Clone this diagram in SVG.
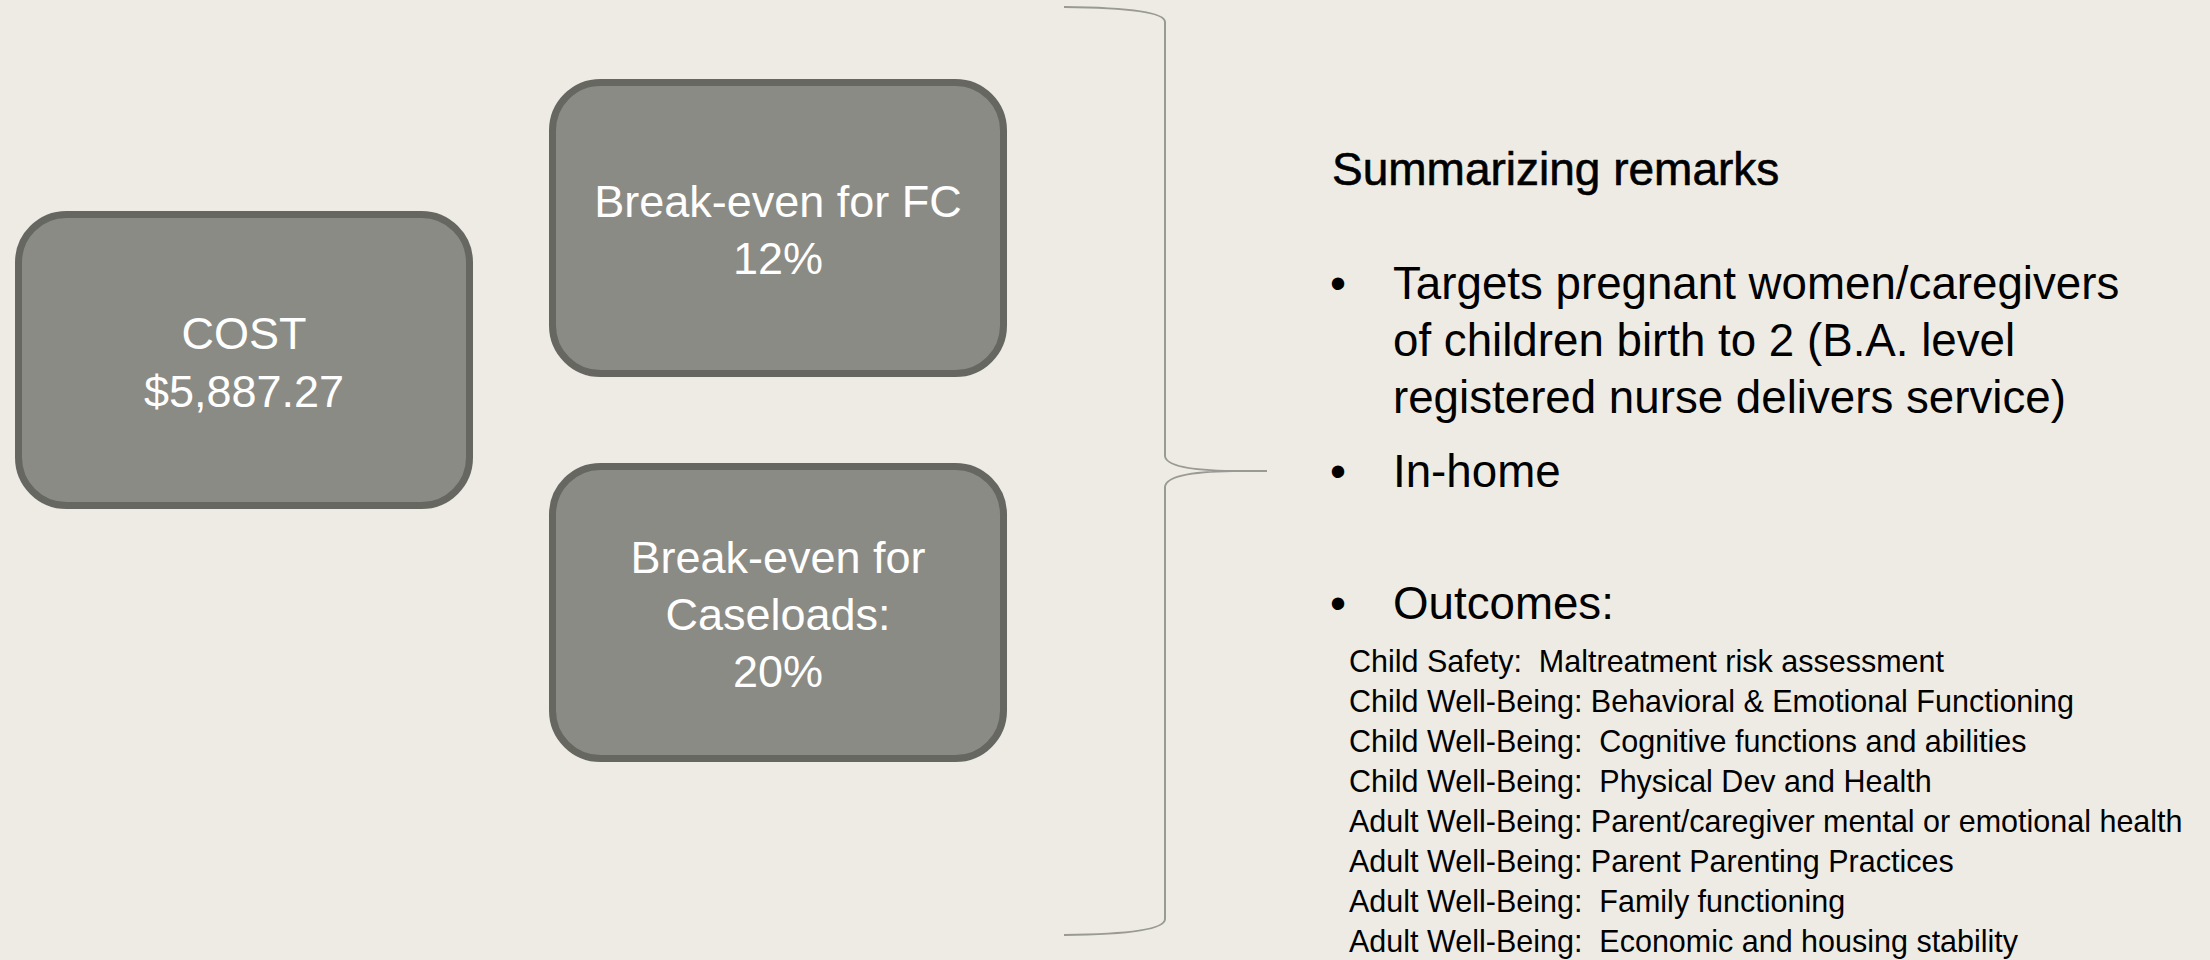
<svg xmlns="http://www.w3.org/2000/svg" width="2210" height="960" viewBox="0 0 2210 960">
<style>
.box{fill:#8b8b85;stroke:#676761;stroke-width:7}
.bt{font-family:"Liberation Sans",Arial,sans-serif;font-size:45px;fill:#ffffff;text-anchor:middle}
.h{font-family:"Liberation Sans",Arial,sans-serif;font-size:46px;fill:#000000;stroke:#000000;stroke-width:0.6}
.b{font-family:"Liberation Sans",Arial,sans-serif;font-size:45.7px;fill:#000000}
.s{font-family:"Liberation Sans",Arial,sans-serif;font-size:30.5px;fill:#000000}
.brace{fill:none;stroke:#9a9a94;stroke-width:2}
</style>
<rect x="0" y="0" width="2210" height="960" fill="#eeebe4"/>
<g id="cost">
<rect class="box" x="18.5" y="214.5" width="451" height="291" rx="48"/>
<text class="bt" x="244" y="349">COST</text>
<text class="bt" x="244" y="407">$5,887.27</text>
</g>
<g id="fc">
<rect class="box" x="552.5" y="82.5" width="451" height="291" rx="48"/>
<text class="bt" x="778" y="217">Break-even for FC</text>
<text class="bt" x="778" y="274">12%</text>
</g>
<g id="caseloads">
<rect class="box" x="552.5" y="466.5" width="451" height="292" rx="48"/>
<text class="bt" x="778" y="573">Break-even for</text>
<text class="bt" x="778" y="630">Caseloads:</text>
<text class="bt" x="778" y="687">20%</text>
</g>
<g id="connectors">
<path class="brace" d="M1064,7 Q1165,8 1165,22 L1165,456 Q1166,470 1233,471 L1267,471 M1233,471 Q1166,472 1165,487 L1165,919 Q1165,934 1064,935"/>
</g>
<g id="remarks">
<text class="h" x="1332" y="185">Summarizing remarks</text>
<text class="b" x="1330" y="299">•</text>
<text class="b" x="1393" y="299">Targets pregnant women/caregivers</text>
<text class="b" x="1393" y="356">of children birth to 2 (B.A. level</text>
<text class="b" x="1393" y="413">registered nurse delivers service)</text>
<text class="b" x="1330" y="487">•</text>
<text class="b" x="1393" y="487">In-home</text>
<text class="b" x="1330" y="619">•</text>
<text class="b" x="1393" y="619">Outcomes:</text>
<text class="s" x="1349" y="672" xml:space="preserve">Child Safety:  Maltreatment risk assessment</text>
<text class="s" x="1349" y="712">Child Well-Being: Behavioral &amp; Emotional Functioning</text>
<text class="s" x="1349" y="752" xml:space="preserve">Child Well-Being:  Cognitive functions and abilities</text>
<text class="s" x="1349" y="792" xml:space="preserve">Child Well-Being:  Physical Dev and Health</text>
<text class="s" x="1349" y="832">Adult Well-Being: Parent/caregiver mental or emotional health</text>
<text class="s" x="1349" y="872">Adult Well-Being: Parent Parenting Practices</text>
<text class="s" x="1349" y="912" xml:space="preserve">Adult Well-Being:  Family functioning</text>
<text class="s" x="1349" y="952" xml:space="preserve">Adult Well-Being:  Economic and housing stability</text>
</g>
</svg>
